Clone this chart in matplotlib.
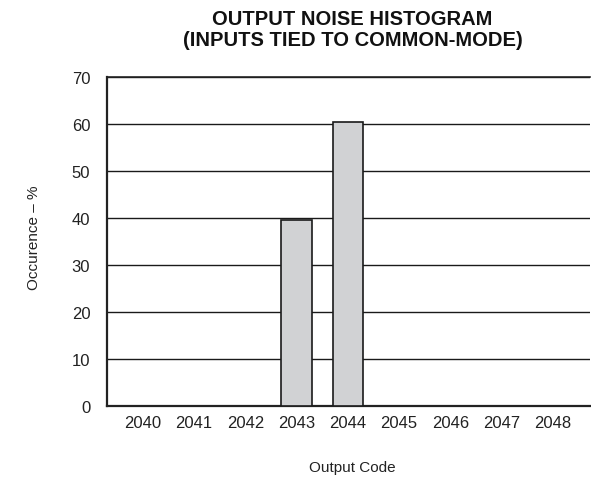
import matplotlib.pyplot as plt

codes = [2040, 2041, 2042, 2043, 2044, 2045, 2046, 2047, 2048]
occurence = [0, 0, 0, 39.7, 60.4, 0, 0, 0, 0]
yticks = [0, 10, 20, 30, 40, 50, 60, 70]

plt.rcParams['font.family'] = ['Liberation Sans', 'DejaVu Sans']

fig = plt.figure(figsize=(5.91, 4.81), dpi=100)
ax = fig.add_axes([0.181, 0.153, 0.817, 0.685])

shown = [(c, v) for c, v in zip(codes, occurence) if v > 0]
ax.bar([c for c, v in shown], [v for c, v in shown], width=0.6,
       color='#d1d2d4', edgecolor='#1a1a1a', linewidth=1.2, zorder=3)

ax.set_xlim(2039.3, 2048.72)
ax.set_ylim(0, 70)
ax.set_xticks(codes)
ax.set_xticklabels([str(c) for c in codes])
ax.set_yticks(yticks)
ax.yaxis.grid(True, color='#1a1a1a', linewidth=1.0)
ax.set_axisbelow(True)
ax.tick_params(length=0, labelsize=12, colors='#222222')
ax.tick_params(axis='y', pad=12)
ax.tick_params(axis='x', pad=6)

for side in ['left', 'bottom']:
    ax.spines[side].set_linewidth(1.6)
    ax.spines[side].set_color('#222222')
ax.spines['top'].set_linewidth(1.2)
ax.spines['top'].set_color('#222222')
ax.spines['right'].set_visible(False)

# axis labels placed as in the original datasheet figure
fig.text(352 / 591, 1 - 468 / 481, 'Output Code', ha='center', va='center',
         fontsize=11, color='#222222')
fig.text(34 / 591, 1 - 238 / 481, 'Occurence – %', ha='center', va='center',
         rotation=90, fontsize=11, color='#222222')

fig.text(352.5 / 591, 1 - 30 / 481, 'OUTPUT NOISE HISTOGRAM\n(INPUTS TIED TO COMMON-MODE)',
         ha='center', va='center', fontsize=14.5, fontweight='bold',
         linespacing=1.1, color='#111111')

fig.savefig('out.png', dpi=100)
